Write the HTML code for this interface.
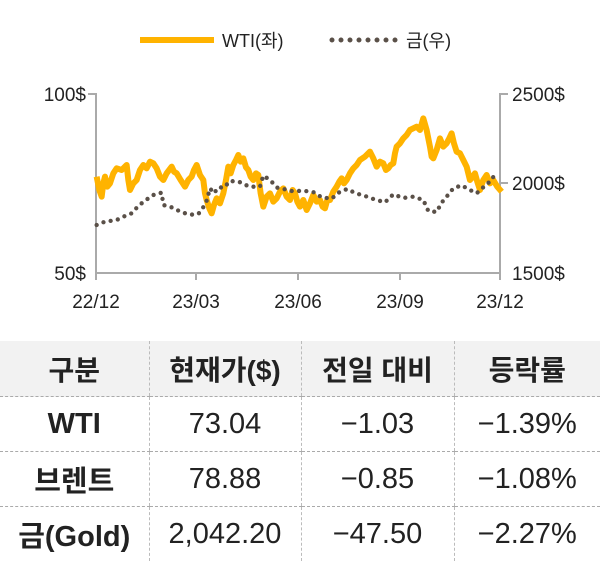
<!DOCTYPE html>
<html><head><meta charset="utf-8"><style>
body{margin:0;width:600px;height:561px;background:#fff;overflow:hidden;font-family:"Liberation Sans","Noto Sans CJK KR",sans-serif;color:#222}
svg{position:absolute;left:0;top:0}
table{position:absolute;left:0;top:341px;width:600px;border-collapse:collapse;table-layout:fixed}
td{height:54px;text-align:center;font-size:29px;border-bottom:1px dashed #aaa;border-left:1px dashed #bbb;padding:0}
td:first-child{border-left:none;font-weight:bold}
tr.h td{background:#f2f2f2;font-weight:bold;height:55px;font-size:28px}
</style></head><body>
<svg width="600" height="335" font-family="Liberation Sans, Noto Sans CJK KR, sans-serif">
<line x1="140" y1="40" x2="214" y2="40" stroke="#ffb300" stroke-width="6"/>
<text x="222" y="47" font-size="18" fill="#222">WTI(좌)</text>
<line x1="332" y1="40" x2="398" y2="40" stroke="#5a5048" stroke-width="5" stroke-linecap="round" stroke-dasharray="0 9"/>
<text x="406" y="47" font-size="18" fill="#222">금(우)</text>
<g stroke="#aaa" stroke-width="2" fill="none">
<polyline points="88,94 96,94 96,273 500,273 500,94 508,94"/>
<line x1="500" y1="183" x2="508" y2="183"/>
<line x1="196" y1="273" x2="196" y2="280"/><line x1="298" y1="273" x2="298" y2="280"/><line x1="400" y1="273" x2="400" y2="280"/><line x1="500" y1="273" x2="500" y2="280"/><line x1="96" y1="273" x2="96" y2="280"/>
</g>
<g font-size="19" fill="#222">
<text x="86" y="101" text-anchor="end">100$</text>
<text x="86" y="280" text-anchor="end">50$</text>
<text x="512" y="101">2500$</text>
<text x="512" y="190">2000$</text>
<text x="512" y="280">1500$</text>
<g text-anchor="middle"><text x="96" y="308">22/12</text><text x="196" y="308">23/03</text><text x="298" y="308">23/06</text><text x="400" y="308">23/09</text><text x="500" y="308">23/12</text></g>
</g>
<g transform="translate(60,80) scale(0.3333)">
<polyline fill="none" stroke="#ffb300" stroke-width="18" stroke-linejoin="round" points="110,290 118,330 125,350 130,310 135,290 142,320 150,310 160,280 170,265 185,270 200,255 205,300 210,330 220,310 230,300 240,270 250,255 260,265 270,245 280,250 290,265 300,290 310,300 320,280 335,260 342,275 350,280 362,300 375,320 385,300 395,290 402,270 410,255 420,285 430,300 435,340 440,360 448,385 455,400 462,375 470,355 480,370 490,340 498,300 505,260 512,280 520,255 528,240 535,225 542,245 550,235 558,262 565,270 572,290 580,300 588,280 595,285 602,340 610,380 620,350 630,340 640,365 650,355 660,335 670,325 680,350 690,360 698,330 705,340 712,365 720,380 730,360 740,390 750,370 760,345 770,365 780,360 788,380 795,385 802,360 810,360 820,335 830,320 838,305 845,295 852,310 860,300 870,280 880,265 890,255 900,240 915,230 930,215 940,235 950,260 960,245 970,250 978,270 985,265 992,255 1000,250 1005,220 1010,200 1020,190 1030,175 1040,165 1050,150 1060,145 1070,140 1080,150 1090,115 1100,150 1110,200 1115,230 1120,235 1130,210 1140,175 1150,200 1160,190 1168,175 1175,160 1182,190 1190,215 1200,220 1210,240 1220,260 1230,300 1238,290 1245,280 1252,305 1260,330 1270,300 1280,285 1290,310 1300,300 1312,320 1325,335"/>
<polyline fill="none" stroke="#5a5048" stroke-width="13" stroke-linecap="round" stroke-dasharray="0 22" points="110,435 135,425 150,423 170,420 195,408 215,400 235,378 255,362 280,345 305,338 310,375 338,383 365,397 392,404 415,402 428,385 440,362 450,325 462,340 475,322 492,323 510,303 533,305 545,308 567,320 600,320 610,287 630,300 652,323 675,328 695,333 713,333 730,332 762,337 785,352 815,356 840,335 862,327 887,340 910,346 940,357 975,367 1000,343 1030,354 1060,350 1090,360 1105,393 1130,396 1145,368 1160,350 1180,325 1205,316 1230,330 1250,340 1272,320 1295,300 1310,272"/>
</g>
</svg>
<table>
<colgroup><col style="width:149px"><col style="width:152px"><col style="width:153px"><col style="width:146px"></colgroup>
<tr class="h"><td>구분</td><td>현재가($)</td><td>전일 대비</td><td>등락률</td></tr>
<tr><td>WTI</td><td>73.04</td><td>−1.03</td><td>−1.39%</td></tr>
<tr><td>브렌트</td><td>78.88</td><td>−0.85</td><td>−1.08%</td></tr>
<tr><td style="border-bottom:none">금(Gold)</td><td style="border-bottom:none">2,042.20</td><td style="border-bottom:none">−47.50</td><td style="border-bottom:none">−2.27%</td></tr>
</table>
</body></html>
